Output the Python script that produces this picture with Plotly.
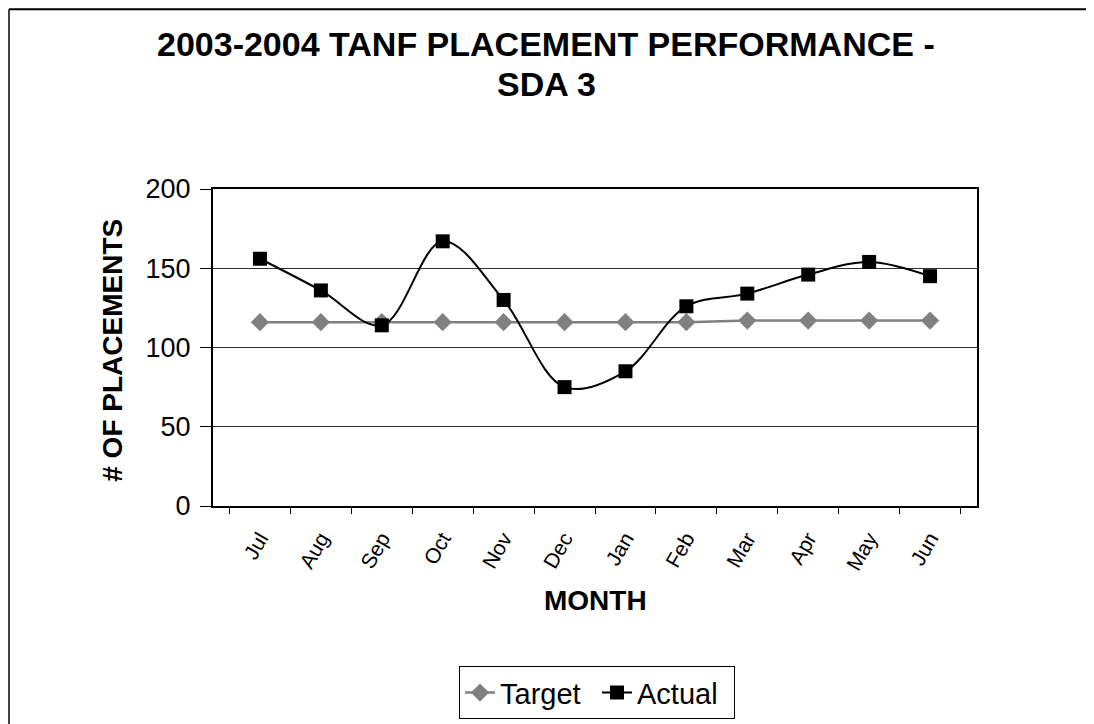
import plotly.graph_objects as go

months = ["Jul", "Aug", "Sep", "Oct", "Nov", "Dec", "Jan", "Feb", "Mar", "Apr", "May", "Jun"]
target = [116, 116, 116, 116, 116, 116, 116, 116, 117, 117, 117, 117]
actual = [156, 136, 114, 167, 130, 75, 85, 126, 134, 146, 154, 145]
title_lines = ["2003-2004 TANF PLACEMENT PERFORMANCE -", "SDA 3"]

FONT = "Liberation Sans, Arial, sans-serif"

fig = go.Figure()
fig.add_trace(go.Scatter(
    x=months, y=target, name="Target", mode="lines+markers",
    line=dict(color="#808080", width=2.5),
    marker=dict(symbol="diamond", size=14, color="#808080"),
))
fig.add_trace(go.Scatter(
    x=months, y=actual, name="Actual", mode="lines+markers",
    line=dict(color="#000000", width=2, shape="spline", smoothing=1.0),
    marker=dict(symbol="square", size=14, color="#000000"),
))

# page has an 8px body margin: work in page coordinates, convert to figure coords
OFF = 8
W, H = 1094 - OFF, 724 - OFF
L, R, T, B = 213 - OFF, 977 - OFF, 189 - OFF, 506.5 - OFF
pw, ph = R - L, B - T

def px(x):  # page x -> paper x
    return (x - OFF - L) / pw

def py(y):  # page y -> paper y
    return (B - (y - OFF)) / ph

fig.update_layout(
    width=W, height=H,
    margin=dict(l=L, r=W - R, t=T, b=H - B, autoexpand=False),
    paper_bgcolor="white", plot_bgcolor="white",
    font=dict(family=FONT, color="black"),
    showlegend=True,
    legend=dict(
        orientation="h", x=px(597), xanchor="center", y=py(667), yanchor="top",
        bordercolor="black", borderwidth=1, font=dict(size=29, family=FONT),
        tracegroupgap=0, entrywidth=92, entrywidthmode="pixels",
    ),
    xaxis=dict(
        type="category", tickson="boundaries", tickangle=-60,
        showline=True, linecolor="black", linewidth=2, mirror=True,
        ticks="outside", ticklen=6, tickcolor="black",
        tickfont=dict(size=21, family=FONT), showgrid=False,
        ticklabelstandoff=10, automargin=False,
    ),
    yaxis=dict(
        range=[0, 200], tickvals=[0, 50, 100, 150, 200],
        showline=True, linecolor="black", linewidth=2, mirror=True,
        ticks="outside", ticklen=11, tickcolor="black",
        tickfont=dict(size=27, family=FONT), ticklabelstandoff=4,
        showgrid=True, gridcolor="#303030", gridwidth=1, zeroline=False,
        automargin=False,
    ),
    annotations=[
        dict(text="<b>" + title_lines[0] + "</b>", xref="paper", yref="paper", x=px(546), y=py(44),
             showarrow=False, font=dict(size=34, family=FONT), xanchor="center", yanchor="middle"),
        dict(text="<b>" + title_lines[1] + "</b>", xref="paper", yref="paper", x=px(546), y=py(84),
             showarrow=False, font=dict(size=34, family=FONT), xanchor="center", yanchor="middle"),
        dict(text="<b>MONTH</b>", xref="paper", yref="paper", x=px(595), y=py(601),
             showarrow=False, font=dict(size=28, family=FONT), xanchor="center", yanchor="middle"),
        dict(text="<b># OF PLACEMENTS</b>", xref="paper", yref="paper", x=px(113), y=py(351),
             showarrow=False, textangle=-90, font=dict(size=28, family=FONT),
             xanchor="center", yanchor="middle"),
    ],
    shapes=[
        dict(type="line", xref="paper", yref="paper", x0=px(OFF + 1), x1=px(1200), y0=py(OFF + 1), y1=py(OFF + 1),
             line=dict(color="black", width=2)),
        dict(type="line", xref="paper", yref="paper", x0=px(OFF + 1), x1=px(OFF + 1), y0=py(OFF + 1), y1=py(800),
             line=dict(color="black", width=1.5)),
    ],
)

fig.write_html("out.html")
